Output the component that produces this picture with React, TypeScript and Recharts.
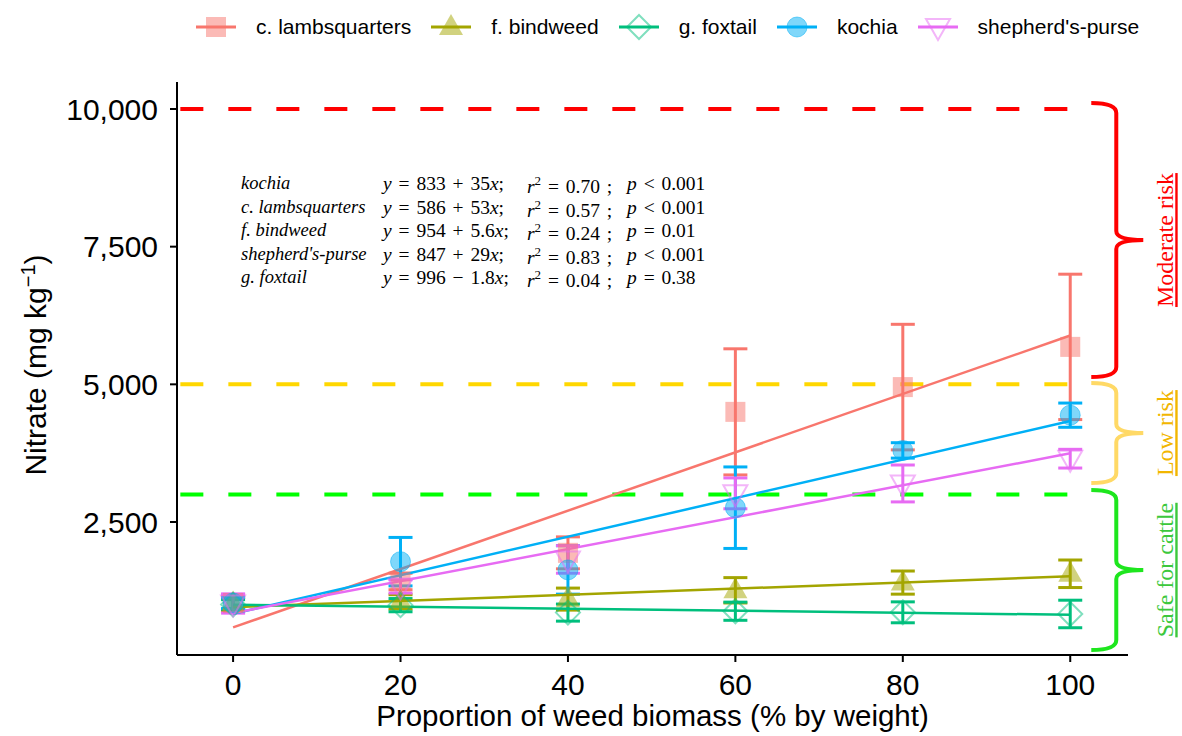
import React from "react"
import {
  ComposedChart,
  Line,
  Scatter,
  ErrorBar,
  XAxis,
  YAxis,
  ReferenceLine,
} from "recharts"

// weed proportion (% by weight)
const proportions = [0, 20, 40, 60, 80, 100]

// nitrate means and error (mg/kg)
const lambsquartersMean = [1030, 1420, 1940, 4500, 4950, 5680]
const lambsquartersErr = [150, 150, 290, 1145, 1140, 1320]
const bindweedMean = [1020, 1050, 1100, 1260, 1400, 1560]
const bindweedErr = [110, 130, 200, 230, 210, 250]
const foxtailMean = [1000, 990, 855, 880, 860, 830]
const foxtailErr = [90, 120, 155, 165, 190, 250]
const kochiaMean = [1030, 1780, 1630, 2760, 3800, 4440]
const kochiaErr = [100, 440, 440, 740, 140, 220]
const purseMean = [1020, 1330, 1820, 3020, 3200, 3650]
const purseErr = [175, 120, 250, 280, 335, 170]

// fitted lines at x = 0 and x = 100 (from the printed equations)
const fitX = [0, 100]
const lambsquartersFit = [586, 5886]
const bindweedFit = [954, 1514]
const foxtailFit = [996, 816]
const kochiaFit = [833, 4333]
const purseFit = [847, 3747]

const yTicks = [2500, 5000, 7500, 10000]
const xTicks = [0, 20, 40, 60, 80, 100]

// risk thresholds and brace ranges
const thresholds = [10000, 5000, 3000]
const thresholdColors = ["#FF0000", "#FFD700", "#00FF00"]
const braceTop = [10108, 5024, 3081]
const braceBottom = [5133, 3207, 174]
const braceLabels = ["Moderate risk", "Low risk", "Safe for cattle"]
const braceColors = ["#FF0000", "#FFD966", "#1EE61E"]
const braceTextColors = ["#FF0000", "#F2B600", "#3CC83C"]

const equationNames = ["kochia", "c. lambsquarters", "f. bindweed", "shepherd's-purse", "g. foxtail"]
const eqIntercept = ["833", "586", "954", "847", "996"]
const eqSlope = ["+ 35", "+ 53", "+ 5.6", "+ 29", "\u2212 1.8"]
const eqR2 = ["0.70", "0.57", "0.24", "0.83", "0.04"]
const eqP = ["< 0.001", "< 0.001", "= 0.01", "< 0.001", "= 0.38"]

const COLORS = {
  lambs: "#F8766D",
  bind: "#A3A500",
  fox: "#00BF7D",
  kochia: "#00B0F6",
  purse: "#E76BF3",
}

const toRows = (means: number[], errs: number[]) =>
  proportions.map((x, i) => ({ x, y: means[i], err: errs[i] }))
const toFit = (vals: number[]) => fitX.map((x, i) => ({ x, y: vals[i] }))

const square = (color: string) => (p: any) =>
  <rect x={p.cx - 10} y={p.cy - 10} width={20} height={20} fill={color} fillOpacity={0.5} />
const circle = (color: string) => (p: any) =>
  <circle cx={p.cx} cy={p.cy} r={10} fill={color} fillOpacity={0.5} stroke={color} strokeOpacity={0.5} />
const triUp = (color: string) => (p: any) =>
  <polygon points={`${p.cx},${p.cy - 13} ${p.cx - 12},${p.cy + 8} ${p.cx + 12},${p.cy + 8}`} fill={color} fillOpacity={0.5} />
const diamond = (color: string) => (p: any) =>
  <polygon points={`${p.cx},${p.cy - 12} ${p.cx + 12},${p.cy} ${p.cx},${p.cy + 12} ${p.cx - 12},${p.cy}`} fill="none" stroke={color} strokeOpacity={0.5} strokeWidth={2} />
const triDown = (color: string) => (p: any) =>
  <polygon points={`${p.cx - 12},${p.cy - 8} ${p.cx + 12},${p.cy - 8} ${p.cx},${p.cy + 13}`} fill="none" stroke={color} strokeOpacity={0.5} strokeWidth={2} />

const series = [
  { name: "c. lambsquarters", color: COLORS.lambs, data: toRows(lambsquartersMean, lambsquartersErr), fit: toFit(lambsquartersFit), shape: square },
  { name: "f. bindweed", color: COLORS.bind, data: toRows(bindweedMean, bindweedErr), fit: toFit(bindweedFit), shape: triUp },
  { name: "g. foxtail", color: COLORS.fox, data: toRows(foxtailMean, foxtailErr), fit: toFit(foxtailFit), shape: diamond },
  { name: "kochia", color: COLORS.kochia, data: toRows(kochiaMean, kochiaErr), fit: toFit(kochiaFit), shape: circle },
  { name: "shepherd's-purse", color: COLORS.purse, data: toRows(purseMean, purseErr), fit: toFit(purseFit), shape: triDown },
]

const serif = "'Liberation Serif', 'Times New Roman', serif"

const braceShape = (color: string, textColor: string, label: string) => (p: any) => {
  const X = p.x1
  const t = p.y1
  const b = p.y2
  const m = (t + b) / 2
  const d = `M ${X - 25} ${t} Q ${X} ${t} ${X} ${t + 10} L ${X} ${m - 9} Q ${X} ${m} ${X + 27} ${m} Q ${X} ${m} ${X} ${m + 9} L ${X} ${b - 10} Q ${X} ${b} ${X - 25} ${b}`
  return (
    <g>
      <path d={d} fill="none" stroke={color} strokeWidth={4} />
      <text
        x={X + 57}
        y={m}
        transform={`rotate(-90 ${X + 57} ${m})`}
        textAnchor="middle"
        fill={textColor}
        fontSize={24}
        fontFamily={serif}
        textDecoration="underline"
      >
        {label}
      </text>
    </g>
  )
}

function LegendKey({ s }: { s: any }) {
  const Shape = s.shape(s.color)
  return (
    <svg width={40} height={40}>
      <line x1={0} y1={20} x2={40} y2={20} stroke={s.color} strokeWidth={3} />
      {Shape({ cx: 20, cy: 20 })}
    </svg>
  )
}

export default function App() {
  return (
    <div style={{ position: "absolute", left: 0, top: 0, width: 1182, height: 736, background: "#fff", fontFamily: "'Liberation Sans', Arial, sans-serif" }}>
      <ComposedChart
        width={1182}
        height={736}
        margin={{ top: 82, right: 54, left: 0, bottom: 0 }}
        style={{ fontFamily: "'Liberation Sans', Arial, sans-serif" }}
      >
        <XAxis
          type="number"
          dataKey="x"
          domain={[-6.7, 106.9]}
          allowDataOverflow
          ticks={xTicks}
          height={81}
          stroke="#000"
          strokeWidth={2}
          tickSize={7}
          tickMargin={12}
          tick={{ fill: "#000", fontSize: 30 }}
          label={{ value: "Proportion of weed biomass (% by weight)", position: "insideBottom", offset: 10, fill: "#000", fontSize: 29.5 }}
        />
        <YAxis
          type="number"
          dataKey="y"
          domain={[85, 10490]}
          allowDataOverflow
          ticks={yTicks}
          width={177}
          stroke="#000"
          strokeWidth={2}
          tickSize={7}
          tickMargin={12}
          tick={{ fill: "#000", fontSize: 30 }}
          tickFormatter={(v) => v.toLocaleString("en-US")}
        />
        {thresholds.map((t, i) => (
          <ReferenceLine
            key={"th" + i}
            segment={[{ x: -6.3, y: t }, { x: 100, y: t }]}
            stroke={thresholdColors[i]}
            strokeWidth={4}
            strokeDasharray="23 25"
            ifOverflow="visible"
          />
        ))}
        {braceTop.map((top, i) => (
          <ReferenceLine
            key={"br" + i}
            segment={[{ x: 105.5, y: top }, { x: 105.5, y: braceBottom[i] }]}
            ifOverflow="visible"
            shape={braceShape(braceColors[i], braceTextColors[i], braceLabels[i])}
          />
        ))}
        {series.map((s) => (
          <Scatter
            key={s.name}
            name={s.name}
            data={s.data}
            dataKey="y"
            shape={s.shape(s.color)}
            isAnimationActive={false}
          >
            <ErrorBar dataKey="err" direction="y" width={12} stroke={s.color} strokeWidth={3} isAnimationActive={false} />
          </Scatter>
        ))}
        {series.map((s) => (
          <Line
            key={s.name + "-fit"}
            data={s.fit}
            dataKey="y"
            type="linear"
            stroke={s.color}
            strokeWidth={2.5}
            dot={false}
            activeDot={false}
            isAnimationActive={false}
          />
        ))}
      </ComposedChart>

      <div
        style={{
          position: "absolute",
          left: 35,
          top: 365,
          transform: "translate(-50%, -50%) rotate(-90deg)",
          whiteSpace: "nowrap",
          fontSize: 30,
          color: "#000",
        }}
      >
        Nitrate (mg kg<sup style={{ fontSize: 20 }}>{"\u22121"}</sup>)
      </div>

      <div style={{ position: "absolute", left: 196, top: 7, display: "flex", alignItems: "center" }}>
        {series.map((s) => (
          <div key={s.name} style={{ display: "flex", alignItems: "center" }}>
            <LegendKey s={s} />
            <span style={{ marginLeft: 20, marginRight: 20, fontSize: 21, color: "#000" }}>{s.name}</span>
          </div>
        ))}
      </div>

      <div style={{ position: "absolute", left: 241, top: 173, fontFamily: serif, fontSize: 18.5, color: "#000" }}>
        {equationNames.map((n, i) => (
          <div key={n} style={{ position: "relative", height: 23.5, whiteSpace: "nowrap" }}>
            <span style={{ position: "absolute", left: 0, fontStyle: "italic" }}>{n}</span>
            <span style={{ position: "absolute", left: 142, fontSize: 19.5, wordSpacing: 2 }}>
              <i>y</i> = {eqIntercept[i]} {eqSlope[i]}<i>x</i>;
            </span>
            <span style={{ position: "absolute", left: 286, fontSize: 19.5, wordSpacing: 2 }}>
              <i>r</i><sup style={{ fontSize: 13 }}>2</sup> = {eqR2[i]} ;
            </span>
            <span style={{ position: "absolute", left: 386, fontSize: 19.5, wordSpacing: 2 }}>
              <i>p</i> {eqP[i]}
            </span>
          </div>
        ))}
      </div>
    </div>
  )
}
